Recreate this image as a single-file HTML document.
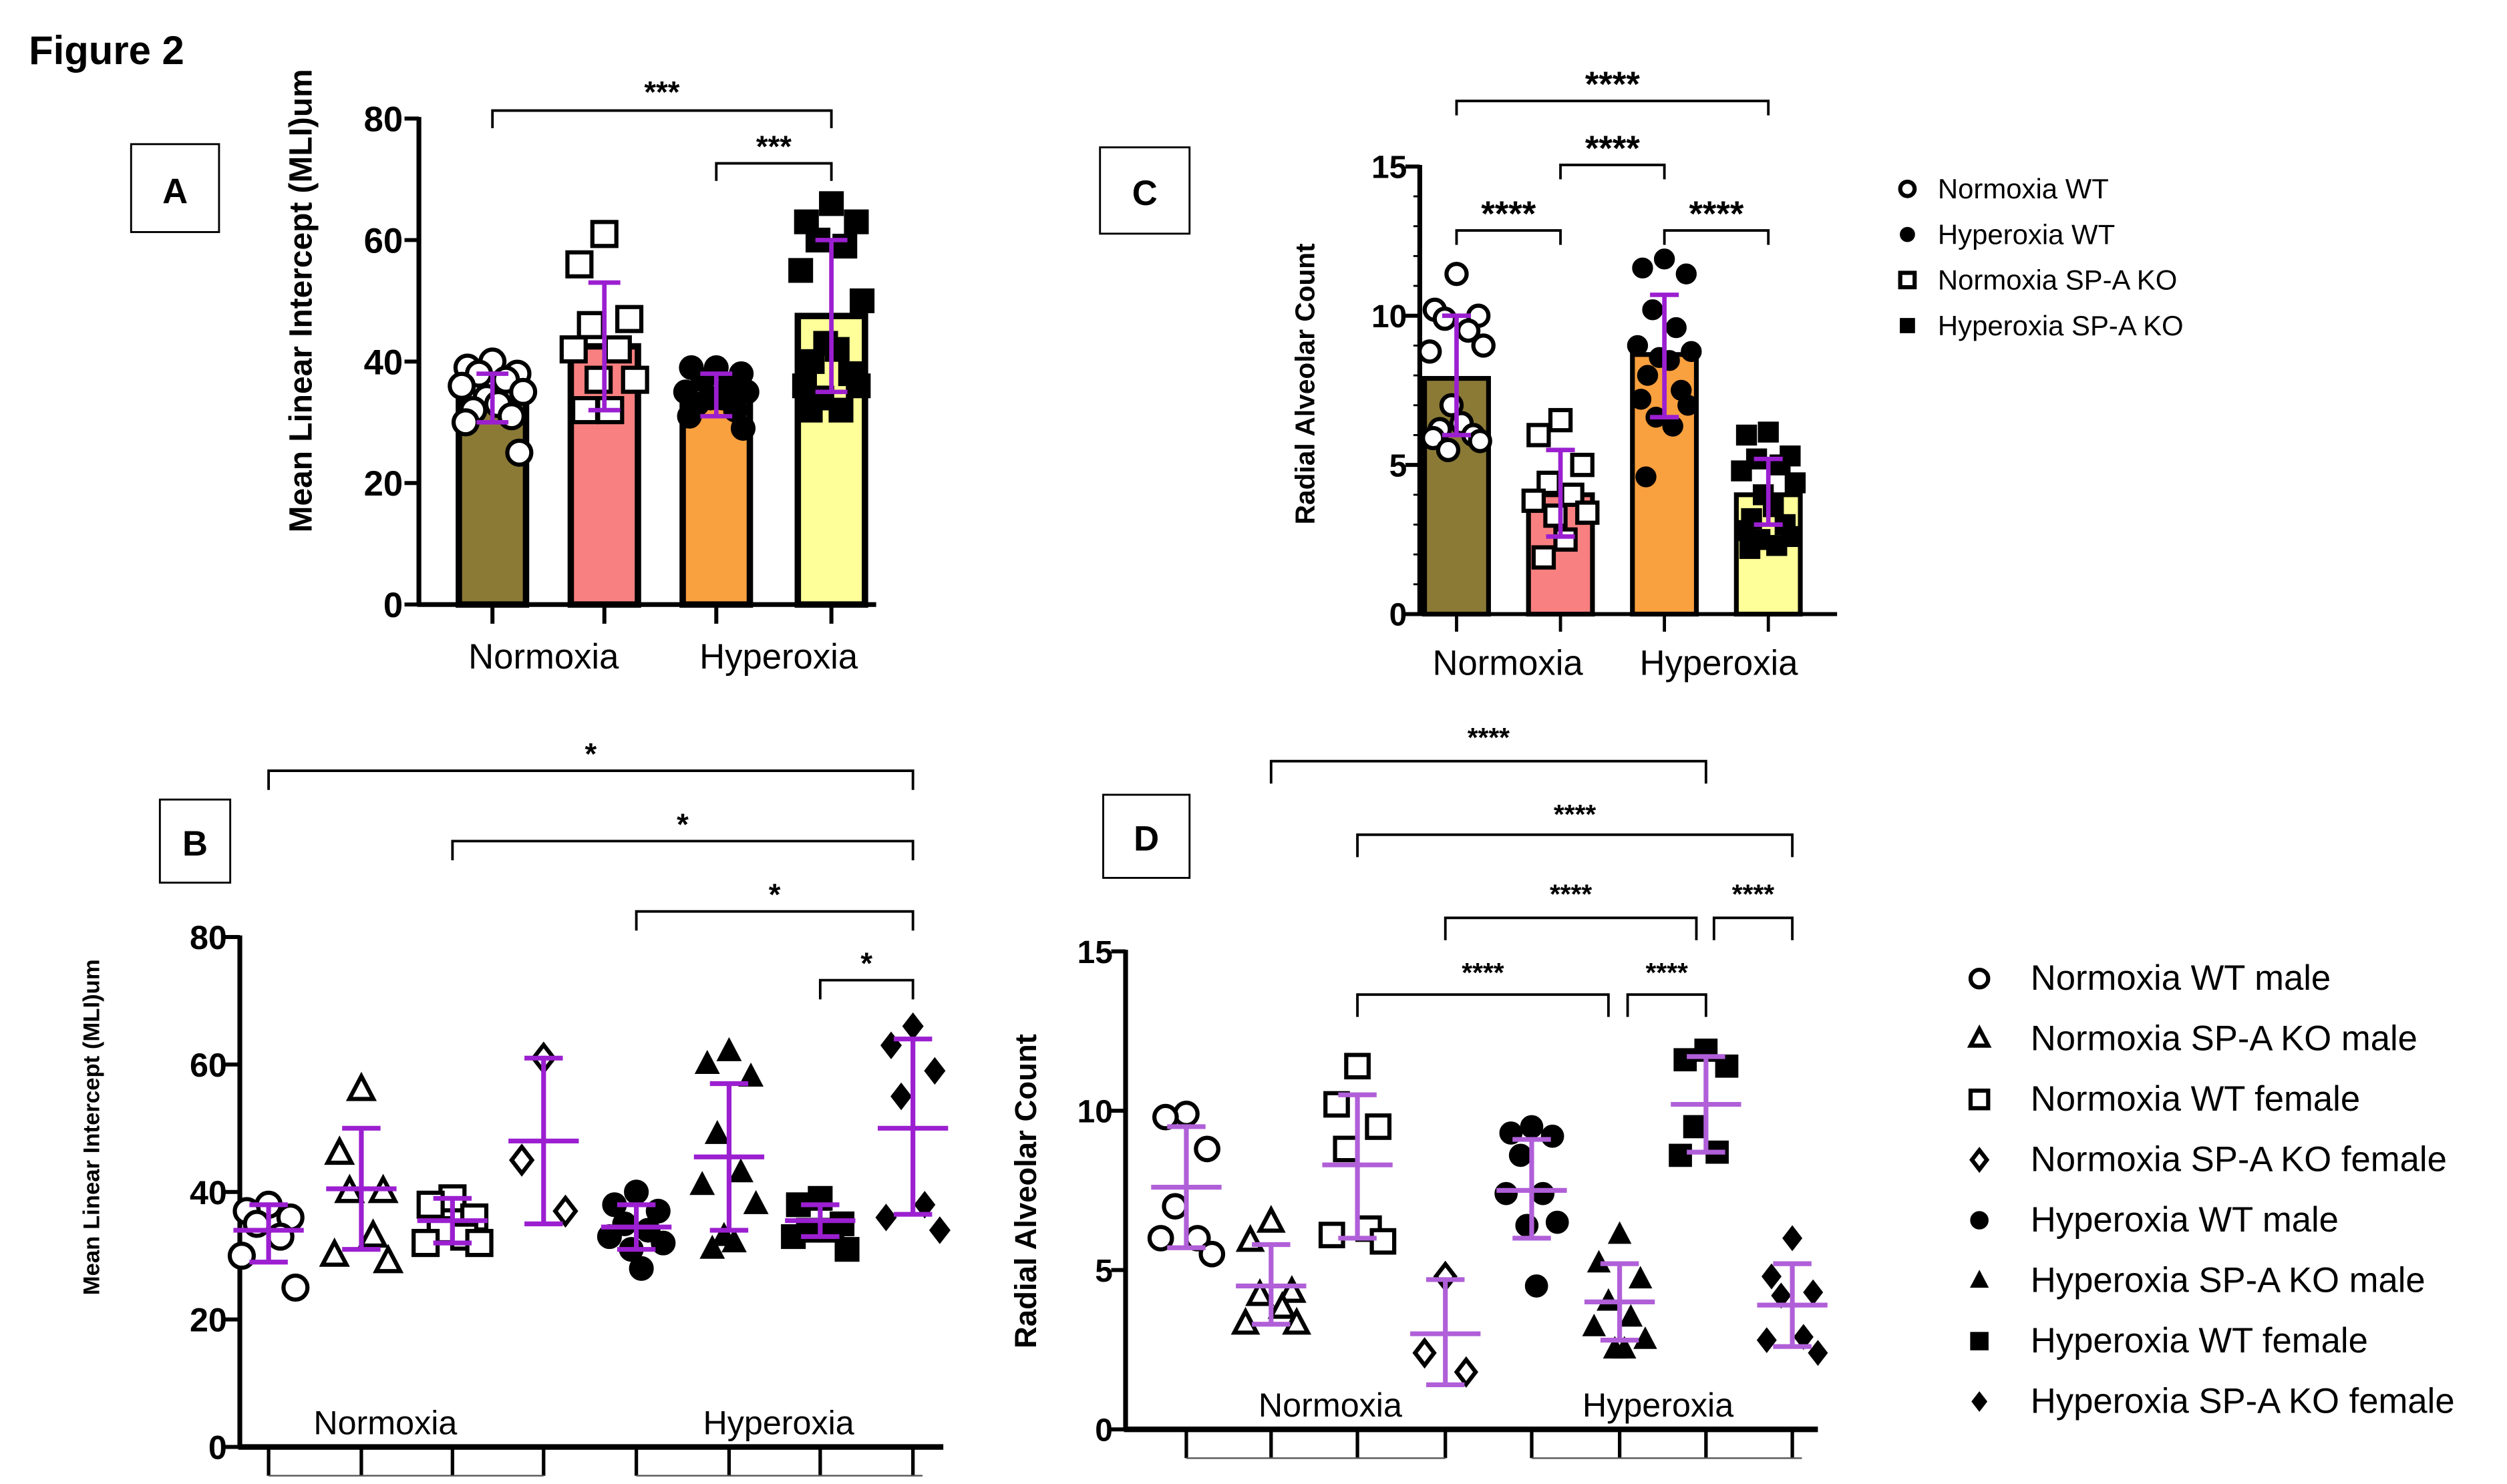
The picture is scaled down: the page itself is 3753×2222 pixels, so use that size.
<!DOCTYPE html>
<html><head><meta charset="utf-8"><style>
html,body{margin:0;padding:0;background:#fff;}
svg{display:block;font-family:"Liberation Sans",Arial,sans-serif;}
</style></head><body>
<svg id="fig" width="3753" height="2222" viewBox="0 0 1568 928" xmlns="http://www.w3.org/2000/svg">
<rect width="1568" height="928" fill="#fff"/>
<text x="18" y="40" font-size="25" font-weight="bold">Figure 2</text>
<g><rect x="82" y="90" width="55" height="55" fill="none" stroke="#000" stroke-width="1.2"/><text x="109.5" y="127" font-size="22" font-weight="bold" text-anchor="middle">A</text></g>
<g><rect x="688" y="92" width="56" height="54" fill="none" stroke="#000" stroke-width="1.2"/><text x="716" y="128" font-size="22" font-weight="bold" text-anchor="middle">C</text></g>
<g><rect x="100" y="500" width="44" height="52" fill="none" stroke="#000" stroke-width="1.2"/><text x="122" y="535" font-size="22" font-weight="bold" text-anchor="middle">B</text></g>
<g><rect x="690" y="497" width="54" height="52" fill="none" stroke="#000" stroke-width="1.2"/><text x="717" y="532" font-size="22" font-weight="bold" text-anchor="middle">D</text></g>
<g id="layer"></g>
</svg>
<script>
// ---- Panel A data (MLI, um)
const aCategories = ["Normoxia WT","Normoxia SP-A KO","Hyperoxia WT","Hyperoxia SP-A KO"];
const aMeans = [33.5, 42.5, 34.5, 47.5];
const aSdLow = [30, 32, 31, 35];
const aSdHigh = [38, 53, 38, 60];
const aPts0 = [40,39,38,38,37,36,35,34,33,32,31,30,25];
const aPts1 = [61,56,47,46,42,42,37,37,32,32];
const aPts2 = [39,39,38,37,36,35,35,34,34,33,32,31,29];
const aPts3 = [66,63,63,60,59,55,50,43,42,40,38,36,36,34,32,32];
const aTicks = [0,20,40,60,80];
// ---- Panel C data (RAC)
const cMeans = [7.9, 4.0, 8.7, 4.0];
const cSdLow = [6.0, 2.6, 6.6, 3.0];
const cSdHigh = [10.0, 5.5, 10.7, 5.2];
const cPts0 = [11.4,10.2,10.0,9.9,9.5,8.8,9.0,7.0,6.4,6.2,6.0,5.9,5.8,5.5];
const cPts1 = [6.5,6.0,5.0,4.4,4.0,3.8,3.4,3.3,2.5,1.9];
const cPts2 = [11.9,11.6,11.4,10.2,9.6,9.0,8.8,8.6,8.5,8.0,7.5,7.2,7.0,6.6,6.3,4.6];
const cPts3 = [6.1,6.0,5.3,5.2,5.0,4.8,4.4,4.0,3.6,3.2,3.0,2.8,2.6,2.5,2.3,2.2];
const cTicks = [0,5,10,15];
// ---- Panel B data (MLI by sex)
const bMeans = [34, 40.5, 35.5, 48, 34.5, 45.5, 35.5, 50];
const bSdLow = [29, 31, 32, 35, 31, 34, 33, 36.5];
const bSdHigh = [38, 50, 39, 61, 38, 57, 38, 64];
const bPts0 = [38,37,36,35,33,30,25];
const bPts1 = [56,46,40,40,33,30,29];
const bPts2 = [39,38,36,34,33,32,32];
const bPts3 = [61,45,37];
const bPts4 = [40,38,37,35,34,33,32,31,28];
const bPts5 = [62,60,58,49,43,41,38,33,32,31];
const bPts6 = [39,38,35,34,34,33,31];
const bPts7 = [66,63,59,55,38,36,34];
const bTicks = [0,20,40,60,80];
// ---- Panel D data (RAC by sex)
const dMeans = [7.6, 4.5, 8.3, 3.0, 7.5, 4.0, 10.2, 3.9];
const dSdLow = [5.7, 3.3, 6.0, 1.4, 6.0, 2.8, 8.7, 2.6];
const dSdHigh = [9.5, 5.8, 10.5, 4.7, 9.1, 5.2, 11.7, 5.2];
const dPts0 = [9.9,9.8,8.8,7.0,6.0,6.0,5.5];
const dPts1 = [6.5,5.9,4.3,4.2,3.8,3.3,3.3];
const dPts2 = [11.4,10.2,9.5,8.8,6.3,6.1,5.9];
const dPts3 = [4.8,2.4,1.8];
const dPts4 = [9.5,9.3,9.2,8.6,7.4,7.4,6.5,6.4,4.5];
const dPts5 = [6.1,5.2,4.7,4.0,3.5,3.2,2.8,2.5,2.5];
const dPts6 = [11.9,11.6,11.4,9.5,8.7,8.6];
const dPts7 = [6.0,4.8,4.3,4.2,2.9,2.8,2.4];
const dTicks = [0,5,10,15];
const legendC = ["Normoxia WT","Hyperoxia WT","Normoxia SP-A KO","Hyperoxia SP-A KO"];
const legendD = ["Normoxia WT male","Normoxia SP-A KO male","Normoxia WT female","Normoxia SP-A KO female","Hyperoxia WT male","Hyperoxia SP-A KO male","Hyperoxia WT female","Hyperoxia SP-A KO female"];

const NS="http://www.w3.org/2000/svg";
const layer=document.getElementById('layer');
const PURPLE="#9B1FD0", PURPLE2="#B05FD8";
function el(tag,attrs,parent){const e=document.createElementNS(NS,tag);for(const k in attrs)e.setAttribute(k,attrs[k]);(parent||layer).appendChild(e);return e;}
function txt(x,y,s,size,opts,parent){const t=el('text',Object.assign({x:x,y:y,'font-size':size},opts||{}),parent);t.textContent=s;return t;}
function marker(shape,filled,cx,cy,r,parent){
  const st={fill:filled?'#000':'#fff',stroke:'#000','stroke-width':filled?0.5:2.6};
  let m;
  if(shape==='circle'){m=el('circle',Object.assign({cx:cx,cy:cy,r:r},st),parent);}
  else if(shape==='square'){m=el('rect',Object.assign({x:cx-r,y:cy-r,width:2*r,height:2*r},st),parent);}
  else if(shape==='triangle'){m=el('polygon',Object.assign({points:`${cx},${cy-r*1.15} ${cx-r},${cy+r*0.75} ${cx+r},${cy+r*0.75}`},st),parent);}
  else {m=el('polygon',Object.assign({points:`${cx},${cy-r*1.1} ${cx+r*0.85},${cy} ${cx},${cy+r*1.1} ${cx-r*0.85},${cy}`},st),parent);}
  
  
  return m;
}
const jit=[0,-13,13,-7,7,-16,16,-3,3,-10,10,-14,14,-5,5,-11];
function bracket(x1,x2,y,drop,label,lsize,ly,parent){
  const g=el('g',{},parent);
  
  
  el('path',{d:`M${x1},${y+drop}V${y}H${x2}V${y+drop}`,fill:'none',stroke:'#000','stroke-width':1.6},g);
  txt((x1+x2)/2,ly,label,lsize,{'text-anchor':'middle','font-weight':'bold'},g);
}
function yAxis(g,x,y0,y1,vmax,ticks,minor,fs,lx){
  const sy=v=>y0-(v/vmax)*(y0-y1);
  el('line',{x1:x,y1:y0,x2:x,y2:y1-1,stroke:'#000','stroke-width':3},g);
  if(minor){for(let v=0;v<=vmax;v+=minor){el('line',{x1:x-4,y1:sy(v),x2:x,y2:sy(v),stroke:'#000','stroke-width':1.2},g);}}
  ticks.forEach(v=>{el('line',{x1:x-9,y1:sy(v),x2:x,y2:sy(v),stroke:'#000','stroke-width':2.5},g);
    const t=txt(lx,sy(v)+fs*0.36,String(v),fs,{'text-anchor':'end','font-weight':'bold'},g);
    
    });
  return sy;
}
// ===== Panel A =====
(function(){
  const g=el('g',{});
  
  
  const sy=yAxis(g,262,378,74,80,aTicks,0,22,252);
  const xs=[308,378,448,520], cols=["#8B7A36","#F98080","#F9A03F","#FFFF99"];
  const pts=[aPts0,aPts1,aPts2,aPts3], shp=[['circle',0],['square',0],['circle',1],['square',1]];
  xs.forEach((x,i)=>{
    const b=el('rect',{x:x-21,y:sy(aMeans[i]),width:42,height:378-sy(aMeans[i]),fill:cols[i],stroke:'#000','stroke-width':4},g);
    
    
    pts[i].forEach((v,j)=>marker(shp[i][0],shp[i][1],x+jit[j%jit.length]*1.2,sy(v),7.5,g));
    el('path',{d:`M${x},${sy(aSdLow[i])}V${sy(aSdHigh[i])}M${x-10},${sy(aSdLow[i])}H${x+10}M${x-10},${sy(aSdHigh[i])}H${x+10}`,stroke:PURPLE,'stroke-width':2.8,fill:'none'},g);
    el('line',{x1:x,y1:378,x2:x,y2:390,stroke:'#000','stroke-width':2.5},g);
  });
  el('line',{x1:261,y1:378,x2:548,y2:378,stroke:'#000','stroke-width':3},g);
  txt(340,418,"Normoxia",22,{'text-anchor':'middle'},g);
  txt(487,418,"Hyperoxia",22,{'text-anchor':'middle'},g);
  const yt=txt(0,0,"Mean Linear Intercept (MLI)um",20,{'font-weight':'bold','text-anchor':'middle',transform:'translate(195,188) rotate(-90)'},g);
  
  
  bracket(308,520,69,11,"***",19,64,g);
  bracket(448,520,102,11,"***",19,98,g);
})();
// ===== Panel C =====
(function(){
  const g=el('g',{});
  
  
  const sy=yAxis(g,888,384,104,15,cTicks,1,20,880);
  const xs=[911,976,1041,1106], cols=["#8B7A36","#F98080","#F9A03F","#FFFF99"];
  const pts=[cPts0,cPts1,cPts2,cPts3], shp=[['circle',0],['square',0],['circle',1],['square',1]];
  xs.forEach((x,i)=>{
    const b=el('rect',{x:x-20,y:sy(cMeans[i]),width:40,height:384-sy(cMeans[i]),fill:cols[i],stroke:'#000','stroke-width':3},g);
    
    
    pts[i].forEach((v,j)=>marker(shp[i][0],shp[i][1],x+jit[j%jit.length]*1.05,sy(v),6.3,g));
    el('path',{d:`M${x},${sy(cSdLow[i])}V${sy(cSdHigh[i])}M${x-9},${sy(cSdLow[i])}H${x+9}M${x-9},${sy(cSdHigh[i])}H${x+9}`,stroke:PURPLE,'stroke-width':2.8,fill:'none'},g);
    el('line',{x1:x,y1:384,x2:x,y2:395,stroke:'#000','stroke-width':2},g);
  });
  el('line',{x1:887,y1:384,x2:1149,y2:384,stroke:'#000','stroke-width':2.5},g);
  txt(943,422,"Normoxia",22,{'text-anchor':'middle'},g);
  txt(1075,422,"Hyperoxia",22,{'text-anchor':'middle'},g);
  const yt=txt(0,0,"Radial Alveolar Count",17,{'font-weight':'bold','text-anchor':'middle',transform:'translate(822,240) rotate(-90)'},g);
  
  
  bracket(911,1106,63,9,"****",22,60,g);
  bracket(976,1041,103,9,"****",22,100,g);
  bracket(911,976,144,9,"****",22,141,g);
  bracket(1041,1106,144,9,"****",22,141,g);
  const sh=[['circle',0],['circle',1],['square',0],['square',1]];
  legendC.forEach((s,i)=>{
    const lg=el('g',{},g);
    
    
    marker(sh[i][0],sh[i][1],1193,118+i*28.5,4.5,lg);
    txt(1212,124+i*28.5,s,17.5,{},lg);
  });
})();
// ===== Scatter panels B and D =====
function scatterPanel(name,cfg){
  const g=el('g',{});
  
  
  const sy=yAxis(g,cfg.ax,cfg.y0,cfg.y1,cfg.vmax,cfg.ticks,0,cfg.fs,cfg.lx);
  const shapes=['circle','triangle','square','diamond'];
  cfg.xs.forEach((x,i)=>{
    const sh=shapes[i%4], f=i>=4?1:0;
    cfg.pts[i].forEach((v,j)=>marker(sh,f,x+jit[j%jit.length]*cfg.jw,sy(v),cfg.r,g));
    el('path',{d:`M${x},${sy(cfg.lo[i])}V${sy(cfg.hi[i])}M${x-12},${sy(cfg.lo[i])}H${x+12}M${x-12},${sy(cfg.hi[i])}H${x+12}M${x-22},${sy(cfg.means[i])}H${x+22}`,stroke:cfg.pc,'stroke-width':3,fill:'none'},g);
    el('line',{x1:x,y1:cfg.y0,x2:x,y2:cfg.y0+18,stroke:'#000','stroke-width':2.2},g);
  });
  el('line',{x1:cfg.ax-1,y1:cfg.y0,x2:cfg.xend,y2:cfg.y0,stroke:'#000','stroke-width':3.5},g);
  el('line',{x1:cfg.xs[0],y1:cfg.y0+18,x2:cfg.xs[3],y2:cfg.y0+18,stroke:'#555','stroke-width':1},g);
  el('line',{x1:cfg.xs[4],y1:cfg.y0+18,x2:cfg.xs[7]+6,y2:cfg.y0+18,stroke:'#555','stroke-width':1},g);
  txt(cfg.nx,cfg.y0-8,"Normoxia",21,{'text-anchor':'middle'},g);
  txt(cfg.hx,cfg.y0-8,"Hyperoxia",21,{'text-anchor':'middle'},g);
  const yt=txt(0,0,cfg.title,cfg.tfs,{'font-weight':'bold','text-anchor':'middle',transform:`translate(${cfg.tx},${cfg.ty}) rotate(-90)`},g);
  
  
  return g;
}
(function(){
  const g=scatterPanel('panel-b-chart',{ax:150,y0:905,y1:586,vmax:80,ticks:bTicks,fs:21,lx:142,
    xs:[168,226,283,340,398,456,513,571],pts:[bPts0,bPts1,bPts2,bPts3,bPts4,bPts5,bPts6,bPts7],
    means:bMeans,lo:bSdLow,hi:bSdHigh,r:7.5,jw:1.05,pc:PURPLE,xend:590,nx:241,hx:487,
    title:"Mean Linear Intercept (MLI)um",tfs:14.5,tx:62,ty:705});
  bracket(168,571,482,12,"*",19,478,g);
  bracket(283,571,526,12,"*",19,522,g);
  bracket(398,571,570,12,"*",19,566,g);
  bracket(513,571,613,12,"*",19,609,g);
})();
(function(){
  const g=scatterPanel('panel-d-chart',{ax:704,y0:894,y1:595,vmax:15,ticks:dTicks,fs:20,lx:696,
    xs:[742,795,849,904,958,1013,1067,1121],pts:[dPts0,dPts1,dPts2,dPts3,dPts4,dPts5,dPts6,dPts7],
    means:dMeans,lo:dSdLow,hi:dSdHigh,r:7,jw:1.0,pc:PURPLE2,xend:1137,nx:832,hx:1037,
    title:"Radial Alveolar Count",tfs:19,tx:648,ty:745});
  bracket(795,1067,476,14,"****",17,467,g);
  bracket(849,1121,522,14,"****",17,515,g);
  bracket(904,1061,574,14,"****",17,565,g);
  bracket(1072,1121,574,14,"****",17,565,g);
  bracket(849,1006,622,14,"****",17,614,g);
  bracket(1018,1067,622,14,"****",17,614,g);
  const shapes=['circle','triangle','square','diamond'];
  legendD.forEach((s,i)=>{
    const lg=el('g',{},g);
    
    
    marker(shapes[i%4],i>=4?1:0,1238,612+i*37.8,5.5,lg);
    txt(1270,619+i*37.8,s,22,{},lg);
  });
})();
</script>
</body></html>
